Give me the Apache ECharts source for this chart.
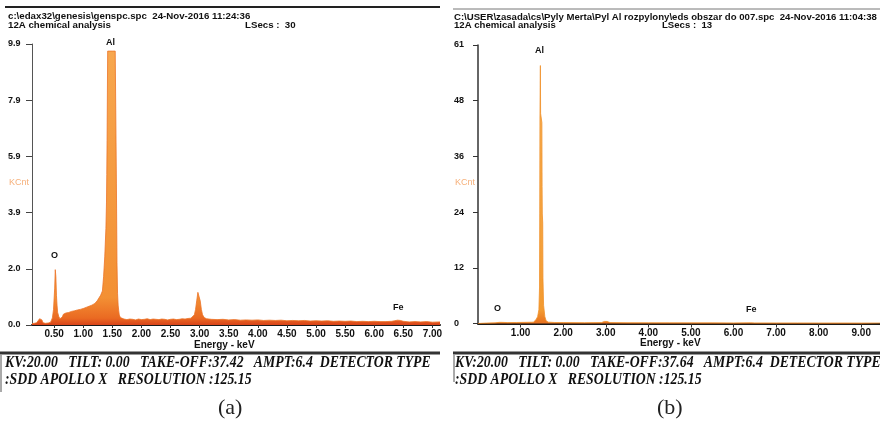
<!DOCTYPE html>
<html>
<head>
<meta charset="utf-8">
<script src="https://cdn.jsdelivr.net/npm/echarts@6/dist/echarts.min.js"></script>
<style>
  html, body { margin: 0; padding: 0; background: #fff; }
  #main { width: 880px; height: 429px; }
</style>
</head>
<body>
<div id="main"></div>
<script>
// spectrum (a) - energy in keV, counts in KCnt
var energyA = [0.12,0.16,0.20,0.23,0.25,0.27,0.29,0.31,0.35,0.40,0.44,0.47,0.49,0.51,0.52,0.53,0.54,0.55,0.56,0.58,0.60,0.62,0.64,0.66,0.70,0.75,0.80,0.85,0.90,0.95,1.00,1.05,1.10,1.15,1.20,1.24,1.27,1.30,1.33,1.35,1.37,1.39,1.40,1.405,1.41,1.42,1.45,1.50,1.55,1.56,1.57,1.58,1.59,1.60,1.61,1.62,1.64,
  1.65,1.70,1.75,1.80,1.85,1.90,1.95,2.00,2.05,2.10,2.15,2.20,2.25,2.30,2.35,2.40,2.45,2.50,2.55,2.60,2.65,2.70,2.75,2.80,2.85,
  2.88,2.91,2.93,2.95,2.97,2.98,2.99,3.01,3.03,3.05,3.08,3.12,
  3.2,3.3,3.4,3.5,3.6,3.7,3.8,3.9,4.0,4.1,4.2,4.3,4.4,4.5,4.6,4.7,4.8,4.9,5.0,5.1,5.2,5.3,5.4,5.5,5.6,5.7,5.8,5.9,6.0,6.1,6.2,6.3,6.35,6.40,6.45,6.5,6.6,6.7,6.8,6.9,7.0,7.13];
var countsA = [0.05,0.06,0.08,0.12,0.22,0.28,0.18,0.08,0.06,0.07,0.10,0.25,0.55,1.30,1.95,1.70,1.05,0.70,0.45,0.30,0.22,0.20,0.28,0.38,0.42,0.44,0.48,0.50,0.53,0.55,0.58,0.62,0.66,0.70,0.76,0.85,0.95,1.05,1.20,1.70,2.40,3.40,4.30,5.30,6.50,9.65,9.65,9.65,9.65,9.65,5.0,2.2,1.1,0.7,0.5,0.35,0.26,
  0.24,0.21,0.19,0.21,0.20,0.18,0.21,0.19,0.20,0.22,0.19,0.21,0.20,0.19,0.21,0.20,0.18,0.20,0.21,0.19,0.20,0.22,0.21,0.23,0.24,
  0.27,0.36,0.55,0.85,1.15,1.22,1.12,0.85,0.55,0.36,0.26,0.22,
  0.20,0.19,0.20,0.18,0.19,0.17,0.18,0.17,0.18,0.16,0.17,0.16,0.17,0.15,0.16,0.15,0.16,0.14,0.15,0.14,0.15,0.13,0.14,0.13,0.14,0.12,0.13,0.12,0.13,0.12,0.12,0.13,0.15,0.17,0.16,0.13,0.11,0.12,0.11,0.12,0.10,0.11];

// spectrum (b)
var energyB = [0.0,0.2,0.4,0.5,0.53,0.56,0.7,0.9,1.1,1.25,1.30,1.36,1.40,1.43,1.445,1.45,1.455,1.465,1.47,1.50,1.505,1.51,1.52,1.525,1.54,1.57,1.60,1.65,1.8,2.0,2.5,2.9,2.97,3.0,3.03,3.1,3.5,4.0,4.5,5.0,5.5,6.0,6.4,6.5,7.0,7.5,8.0,8.5,9.0,9.44];
var countsB = [0,0.1,0.15,0.25,0.35,0.25,0.2,0.22,0.25,0.28,0.3,0.8,1.5,3,8,24,45,56.5,46,44,30,24,22,10,4,1.5,0.6,0.3,0.22,0.2,0.18,0.2,0.45,0.6,0.45,0.2,0.17,0.16,0.15,0.14,0.14,0.13,0.16,0.13,0.12,0.12,0.11,0.11,0.1,0.1];

var xTicksA = [0.5,1.0,1.5,2.0,2.5,3.0,3.5,4.0,4.5,5.0,5.5,6.0,6.5,7.0];
var xTicksB = [1,2,3,4,5,6,7,8,9];
var yTicksA = [0,1.98,3.96,5.94,7.92,9.9];
var yLabelsA = ['0.0','2.0','3.9','5.9','7.9','9.9'];
var yTicksB = [0,12.2,24.4,36.6,48.8,61];
var yLabelsB = ['0','12','24','36','48','61'];

function zip(xs, ys) {
  var out = [];
  for (var i = 0; i < xs.length; i++) out.push([xs[i], ys[i]]);
  return out;
}
function pickLabel(ticks, labels) {
  return function (v) {
    var best = 0;
    for (var i = 0; i < ticks.length; i++) {
      if (Math.abs(ticks[i] - v) < Math.abs(ticks[best] - v)) best = i;
    }
    return labels[best];
  };
}

var sans = 'Liberation Sans';
var serif = 'Liberation Serif';
var axLbl = { color: '#111', fontFamily: sans, fontWeight: 'bold', fontSize: 9 };

function txt(x, y, s, o) {
  o = o || {};
  return {
    type: 'text', left: x, top: y, scaleX: o.sx || 1,
    style: {
      text: s, fill: o.color || '#111', fontFamily: o.font || sans,
      fontWeight: o.weight || 'bold', fontStyle: o.style || 'normal',
      fontSize: o.size || 9
    }
  };
}
function hline(x1, x2, y, w, c) {
  return { type: 'line', shape: { x1: x1, y1: y, x2: x2, y2: y }, style: { stroke: c, lineWidth: w } };
}
function vline(x, y1, y2, w, c) {
  return { type: 'line', shape: { x1: x, y1: y1, x2: x, y2: y2 }, style: { stroke: c, lineWidth: w } };
}
var foot = { font: serif, style: 'italic', weight: 700, size: 16, sx: 0.86 };

var myChart = echarts.init(document.getElementById('main'));

var option = {
  backgroundColor: '#fff',
  animation: false,
  grid: [
    { left: 32, top: 44, width: 408, height: 281 },
    { left: 478, top: 45, width: 402, height: 278.5 }
  ],
  xAxis: [
    {
      gridIndex: 0, type: 'value', min: 0.12, max: 7.13,
      axisLine: { lineStyle: { color: '#1a1a1a', width: 2 } },
      axisTick: { customValues: xTicksA, length: 3, lineStyle: { color: '#333' } },
      axisLabel: Object.assign({ customValues: xTicksA, margin: 4, formatter: function (v) { return v.toFixed(2); } }, axLbl, { fontSize: 10 }),
      splitLine: { show: false }
    },
    {
      gridIndex: 1, type: 'value', min: 0, max: 9.44,
      axisLine: { lineStyle: { color: '#1a1a1a', width: 2 } },
      axisTick: { customValues: xTicksB, length: 4, lineStyle: { color: '#333' } },
      axisLabel: Object.assign({ customValues: xTicksB, margin: 5, formatter: function (v) { return v.toFixed(2); } }, axLbl, { fontSize: 10 }),
      splitLine: { show: false }
    }
  ],
  yAxis: [
    {
      gridIndex: 0, type: 'value', min: 0, max: 9.9,
      axisLine: { show: true, lineStyle: { color: '#555', width: 1 } },
      axisTick: { show: true, customValues: yTicksA, length: 6, lineStyle: { color: '#444' } },
      axisLabel: Object.assign({ customValues: yTicksA, align: 'left', margin: 24, formatter: pickLabel(yTicksA, yLabelsA) }, axLbl),
      splitLine: { show: false }
    },
    {
      gridIndex: 1, type: 'value', min: 0, max: 61,
      axisLine: { show: true, lineStyle: { color: '#333', width: 1.5 } },
      axisTick: { show: true, customValues: yTicksB, length: 5, lineStyle: { color: '#333' } },
      axisLabel: Object.assign({ customValues: yTicksB, align: 'left', margin: 24, formatter: pickLabel(yTicksB, yLabelsB) }, axLbl),
      splitLine: { show: false }
    }
  ],
  series: [
    {
      type: 'line', xAxisIndex: 0, yAxisIndex: 0, data: zip(energyA, countsA),
      symbol: 'none', smooth: false, clip: true,
      lineStyle: { color: '#ec7427', width: 0.8 },
      areaStyle: {
        opacity: 1,
        color: new echarts.graphic.LinearGradient(0, 0, 0, 1, [
          { offset: 0, color: '#f7a74e' },
          { offset: 0.9, color: '#f39034' },
          { offset: 0.975, color: '#ea6a22' },
          { offset: 1, color: '#d9441a' }
        ])
      }
    },
    {
      type: 'line', xAxisIndex: 1, yAxisIndex: 1, data: zip(energyB, countsB),
      symbol: 'none', smooth: false, clip: true,
      lineStyle: { color: '#f0902a', width: 0.8 },
      areaStyle: {
        opacity: 1,
        color: new echarts.graphic.LinearGradient(0, 0, 0, 1, [
          { offset: 0, color: '#f8b45a' },
          { offset: 0.95, color: '#f39a30' },
          { offset: 1, color: '#e8701e' }
        ])
      }
    }
  ],
  graphic: [
    // headers
    hline(5, 440, 7, 2, '#222'),
    hline(453, 880, 9, 1, '#777'),
    txt(8, 11, 'c:\\edax32\\genesis\\genspc.spc  24-Nov-2016 11:24:36', { size: 9.7 }),
    txt(8, 20, '12A chemical analysis', { size: 9.7 }),
    txt(245, 20, 'LSecs :  30', { size: 9.7 }),
    txt(454, 12, 'C:\\USER\\zasada\\cs\\Pyly Merta\\Pyl Al rozpylony\\eds obszar do 007.spc  24-Nov-2016 11:04:38', { size: 9.6 }),
    txt(454, 20, '12A chemical analysis', { size: 9.6 }),
    txt(662, 20, 'LSecs :  13', { size: 9.6 }),
    // KCnt labels
    txt(9, 178, 'KCnt', { color: '#f6b07a', weight: 'normal' }),
    txt(455, 178, 'KCnt', { color: '#f6b07a', weight: 'normal' }),
    // element labels
    txt(106, 38, 'Al'),
    txt(51, 251, 'O'),
    txt(393, 303, 'Fe'),
    txt(535, 46, 'Al'),
    txt(494, 304, 'O'),
    txt(746, 305, 'Fe'),
    // axis names
    txt(194, 340, 'Energy - keV', { size: 10 }),
    txt(640, 338, 'Energy - keV', { size: 10 }),
    // separators
    hline(0, 440, 353, 3, '#333'),
    hline(453, 880, 353, 3, '#333'),
    vline(1, 355, 392, 1, '#555'),
    vline(454, 355, 382, 1, '#555'),
    // footer
    txt(5, 355, 'KV:20.00   TILT: 0.00   TAKE-OFF:37.42   AMPT:6.4  DETECTOR TYPE', foot),
    txt(5, 372, ':SDD APOLLO X   RESOLUTION :125.15', foot),
    txt(455, 355, 'KV:20.00   TILT: 0.00   TAKE-OFF:37.64   AMPT:6.4  DETECTOR TYPE', foot),
    txt(455, 372, ':SDD APOLLO X   RESOLUTION :125.15', foot),
    // panel captions
    txt(218, 397, '(a)', { font: serif, weight: 'normal', size: 22, color: '#222' }),
    txt(657, 397, '(b)', { font: serif, weight: 'normal', size: 22, color: '#222' })
  ]
};
myChart.setOption(option);
</script>
</body>
</html>
